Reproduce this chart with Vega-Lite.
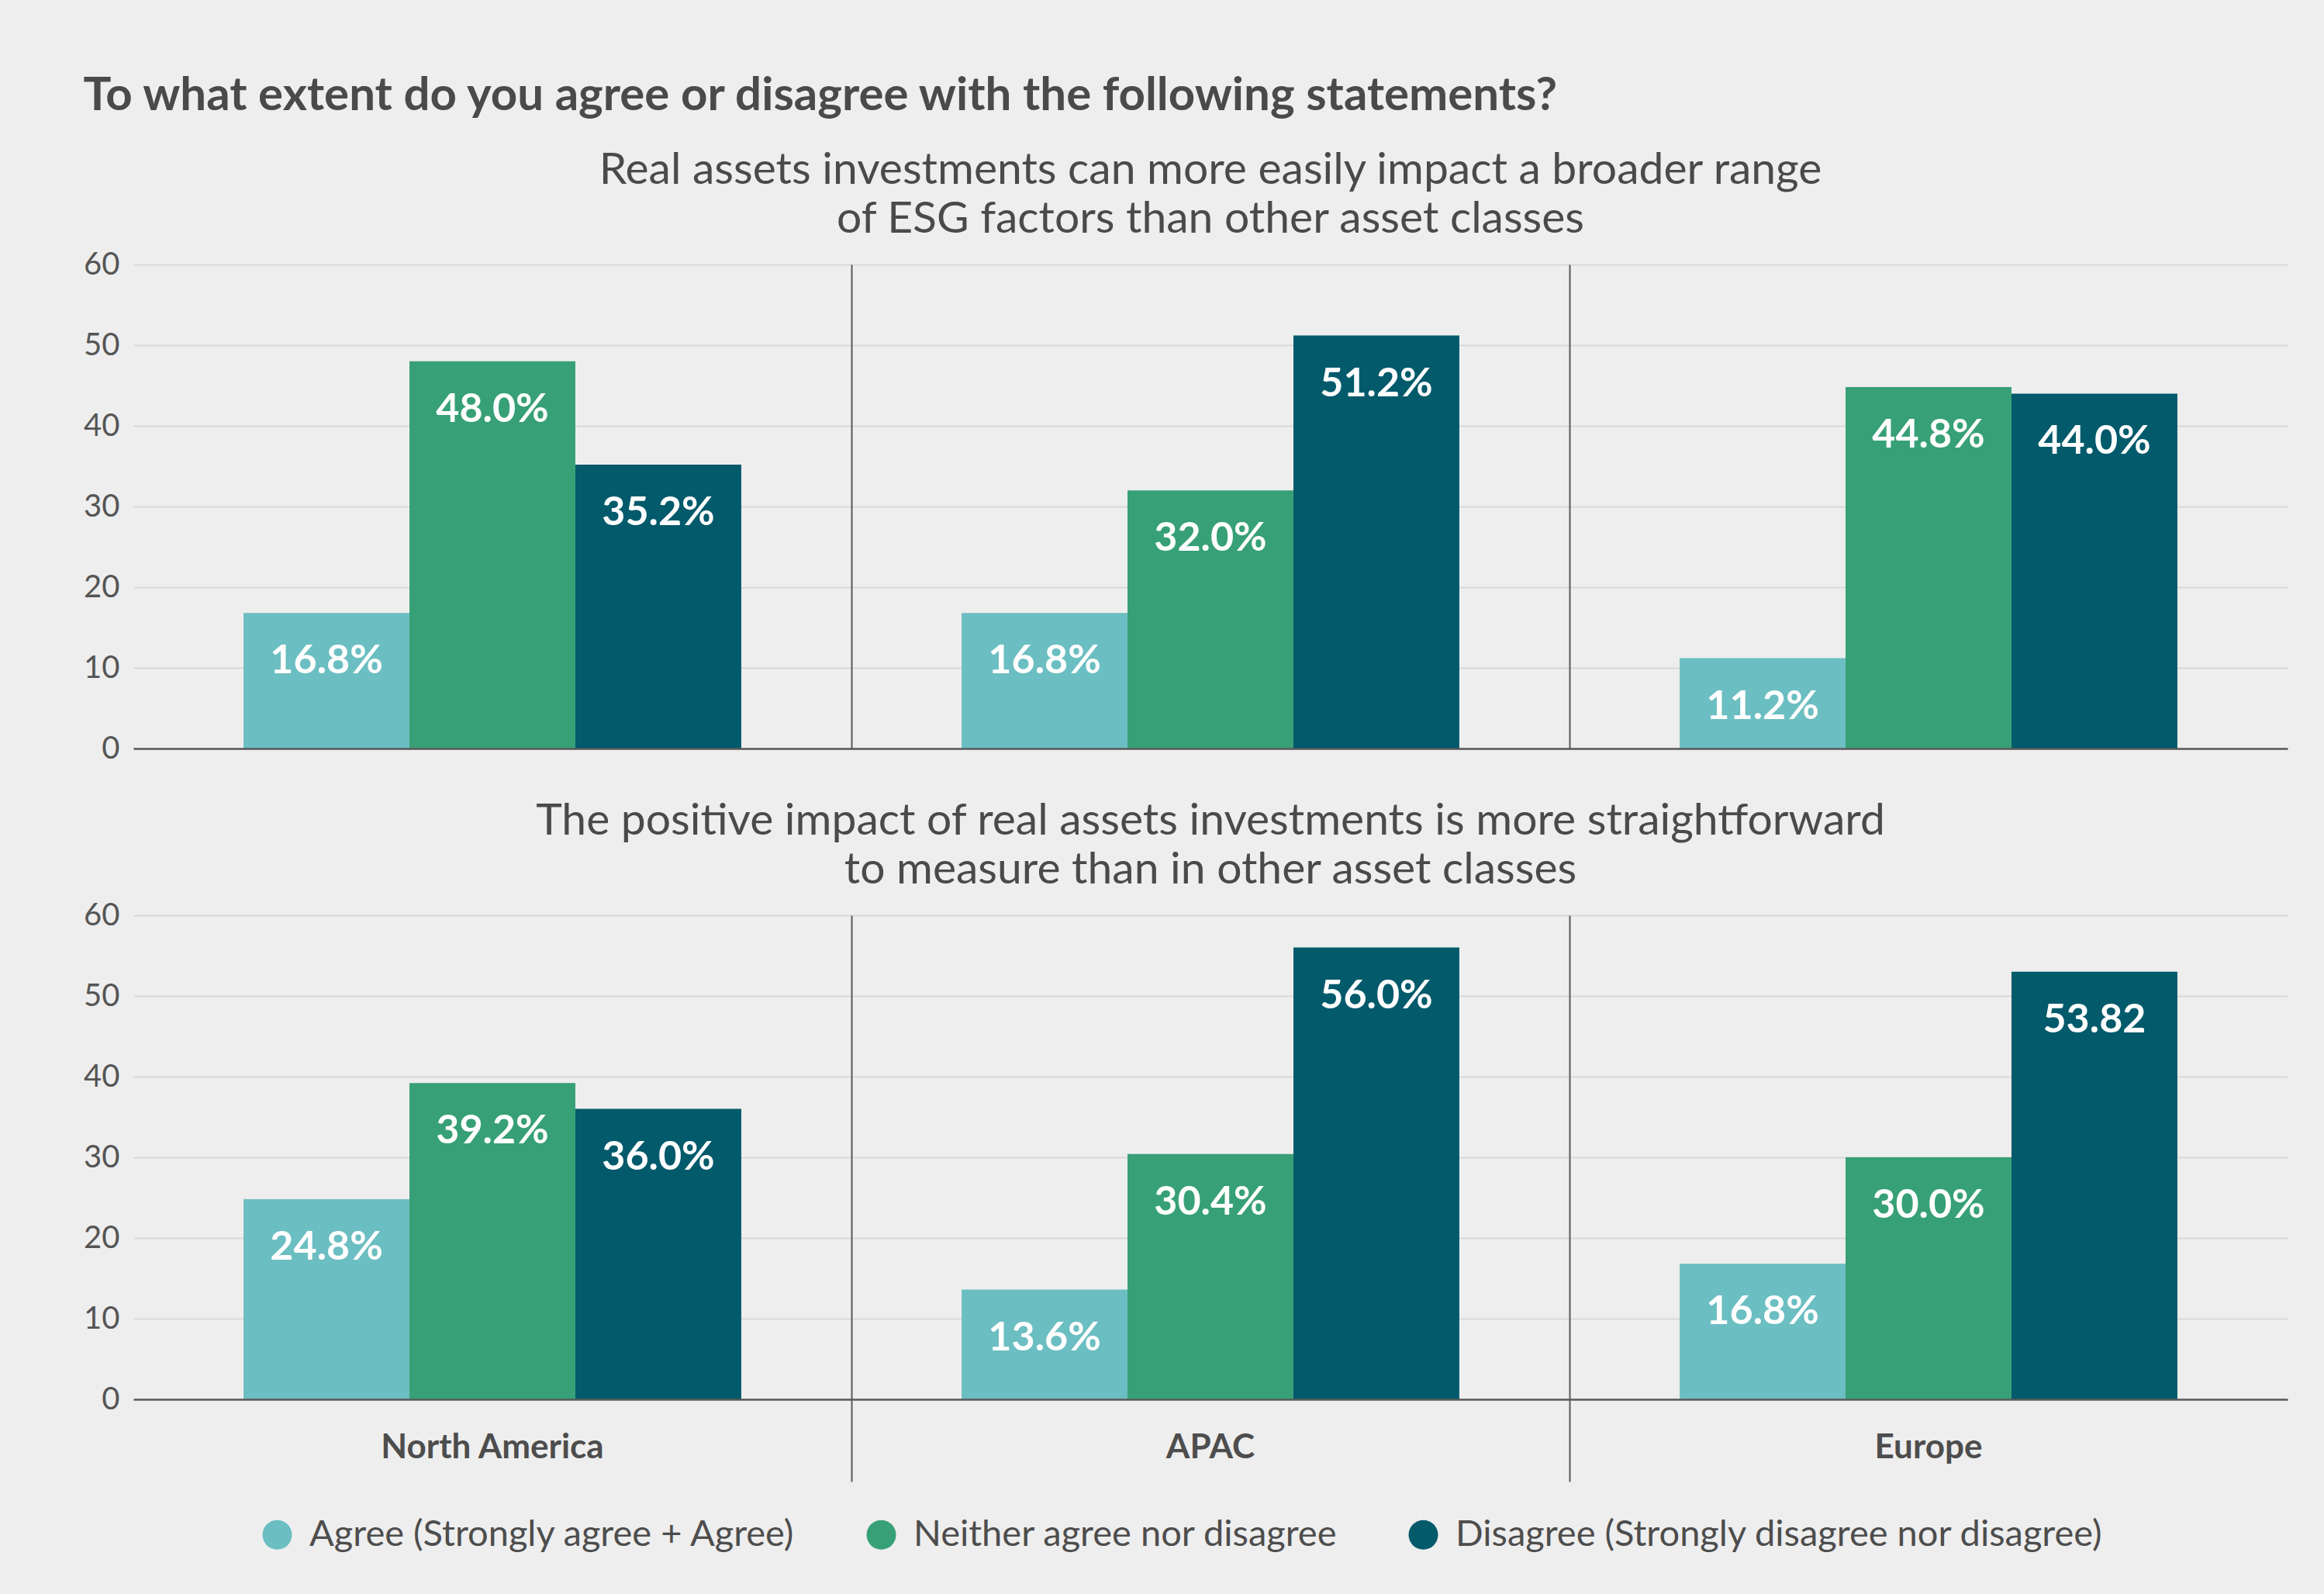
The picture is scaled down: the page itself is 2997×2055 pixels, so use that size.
{
  "$schema": "https://vega.github.io/schema/vega-lite/v6.json",
  "background": "#eeeeee",
  "padding": {"left": 107, "top": 94, "right": 49, "bottom": 60},
  "title": {
    "text": "To what extent do you agree or disagree with the following statements?",
    "anchor": "start",
    "font": "Lato",
    "fontSize": 60,
    "fontWeight": "bold",
    "color": "#4a4a4a",
    "offset": 36
  },
  "datasets": {
    "q1": [
      {"region": "North America", "response": "Agree (Strongly agree + Agree)", "value": 16.8, "label": "16.8%"},
      {"region": "North America", "response": "Neither agree nor disagree", "value": 48.0, "label": "48.0%"},
      {"region": "North America", "response": "Disagree (Strongly disagree nor disagree)", "value": 35.2, "label": "35.2%"},
      {"region": "APAC", "response": "Agree (Strongly agree + Agree)", "value": 16.8, "label": "16.8%"},
      {"region": "APAC", "response": "Neither agree nor disagree", "value": 32.0, "label": "32.0%"},
      {"region": "APAC", "response": "Disagree (Strongly disagree nor disagree)", "value": 51.2, "label": "51.2%"},
      {"region": "Europe", "response": "Agree (Strongly agree + Agree)", "value": 11.2, "label": "11.2%"},
      {"region": "Europe", "response": "Neither agree nor disagree", "value": 44.8, "label": "44.8%"},
      {"region": "Europe", "response": "Disagree (Strongly disagree nor disagree)", "value": 44.0, "label": "44.0%"}
    ],
    "q2": [
      {"region": "North America", "response": "Agree (Strongly agree + Agree)", "value": 24.8, "label": "24.8%"},
      {"region": "North America", "response": "Neither agree nor disagree", "value": 39.2, "label": "39.2%"},
      {"region": "North America", "response": "Disagree (Strongly disagree nor disagree)", "value": 36.0, "label": "36.0%"},
      {"region": "APAC", "response": "Agree (Strongly agree + Agree)", "value": 13.6, "label": "13.6%"},
      {"region": "APAC", "response": "Neither agree nor disagree", "value": 30.4, "label": "30.4%"},
      {"region": "APAC", "response": "Disagree (Strongly disagree nor disagree)", "value": 56.0, "label": "56.0%"},
      {"region": "Europe", "response": "Agree (Strongly agree + Agree)", "value": 16.8, "label": "16.8%"},
      {"region": "Europe", "response": "Neither agree nor disagree", "value": 30.0, "label": "30.0%"},
      {"region": "Europe", "response": "Disagree (Strongly disagree nor disagree)", "value": 53.0, "label": "53.82"}
    ]
  },
  "spacing": 45,
  "vconcat": [
    {
      "width": 2778,
      "height": 624,
      "data": {"name": "q1"},
      "title": {
        "text": ["Real assets investments can more easily impact a broader range", "of ESG factors than other asset classes"],
        "anchor": "middle",
        "font": "Lato",
        "fontSize": 57,
        "fontWeight": "normal",
        "lineHeight": 63,
        "color": "#4a4a4a",
        "offset": 9
      },
      "encoding": {
        "x": {
          "field": "region", "type": "nominal",
          "sort": ["North America", "APAC", "Europe"],
          "scale": {"paddingInner": 0, "paddingOuter": 0},
          "axis": {
            "title": null, "labels": false, "ticks": false,
            "domain": true, "domainColor": "#595959", "domainWidth": 2.5,
            "grid": true, "gridColor": "#595959", "gridWidth": 2,
            "gridOpacity": {"condition": {"test": "datum.value === 'North America'", "value": 0}, "value": 1},
            "bandPosition": 0, "zindex": 1
          }
        },
        "xOffset": {
          "field": "response",
          "sort": ["Agree (Strongly agree + Agree)", "Neither agree nor disagree", "Disagree (Strongly disagree nor disagree)"],
          "scale": {"paddingInner": 0, "paddingOuter": 0.664}
        },
        "y": {
          "field": "value", "type": "quantitative",
          "scale": {"domain": [0, 60]},
          "axis": {
            "title": null, "values": [0, 10, 20, 30, 40, 50, 60],
            "grid": true, "gridColor": "#d8d8d8", "gridWidth": 2,
            "domain": false, "ticks": false,
            "labelFont": "Lato", "labelFontSize": 40, "labelColor": "#555555", "labelPadding": 18
          }
        }
      },
      "layer": [
        {
          "mark": {"type": "bar"},
          "encoding": {
            "color": {
              "field": "response", "type": "nominal",
              "scale": {
                "domain": ["Agree (Strongly agree + Agree)", "Neither agree nor disagree", "Disagree (Strongly disagree nor disagree)"],
                "range": ["#6bbec1", "#37a077", "#025a6b"]
              },
              "legend": {
                "title": null, "orient": "none", "direction": "horizontal",
                "legendX": 162, "legendY": 1614,
                "symbolType": "circle", "symbolSize": 1444, "symbolStrokeWidth": 0,
                "labelFont": "Lato", "labelFontSize": 47, "labelColor": "#4d4d4d",
                "labelOffset": 18, "columnPadding": 86, "labelLimit": 2000
              }
            }
          }
        },
        {
          "mark": {"type": "text", "color": "white", "font": "Lato", "fontWeight": "bold", "fontSize": 52, "baseline": "middle", "dy": 62},
          "encoding": {"text": {"field": "label"}}
        }
      ]
    },
    {
      "width": 2778,
      "height": 624,
      "data": {"name": "q2"},
      "title": {
        "text": ["The positive impact of real assets investments is more straightforward", "to measure than in other asset classes"],
        "anchor": "middle",
        "font": "Lato",
        "fontSize": 57,
        "fontWeight": "normal",
        "lineHeight": 63,
        "color": "#4a4a4a",
        "offset": 9
      },
      "encoding": {
        "x": {
          "field": "region", "type": "nominal",
          "sort": ["North America", "APAC", "Europe"],
          "scale": {"paddingInner": 0, "paddingOuter": 0},
          "axis": {
            "title": null, "labelAngle": 0,
            "labelFont": "Lato", "labelFontSize": 44, "labelFontWeight": "bold", "labelColor": "#4d4d4d",
            "labelPadding": -66, "labelBaseline": "top", "labelLimit": 2000,
            "ticks": true, "tickSize": 106, "tickColor": "#595959", "tickWidth": 2,
            "tickOpacity": {"condition": {"test": "datum.value === 'North America'", "value": 0}, "value": 1},
            "domain": true, "domainColor": "#595959", "domainWidth": 2.5,
            "grid": true, "gridColor": "#595959", "gridWidth": 2,
            "gridOpacity": {"condition": {"test": "datum.value === 'North America'", "value": 0}, "value": 1},
            "bandPosition": 0, "zindex": 1
          }
        },
        "xOffset": {
          "field": "response",
          "sort": ["Agree (Strongly agree + Agree)", "Neither agree nor disagree", "Disagree (Strongly disagree nor disagree)"],
          "scale": {"paddingInner": 0, "paddingOuter": 0.664}
        },
        "y": {
          "field": "value", "type": "quantitative",
          "scale": {"domain": [0, 60]},
          "axis": {
            "title": null, "values": [0, 10, 20, 30, 40, 50, 60],
            "grid": true, "gridColor": "#d8d8d8", "gridWidth": 2,
            "domain": false, "ticks": false,
            "labelFont": "Lato", "labelFontSize": 40, "labelColor": "#555555", "labelPadding": 18
          }
        }
      },
      "layer": [
        {
          "mark": {"type": "bar"},
          "encoding": {
            "color": {
              "field": "response", "type": "nominal",
              "scale": {
                "domain": ["Agree (Strongly agree + Agree)", "Neither agree nor disagree", "Disagree (Strongly disagree nor disagree)"],
                "range": ["#6bbec1", "#37a077", "#025a6b"]
              }
            }
          }
        },
        {
          "mark": {"type": "text", "color": "white", "font": "Lato", "fontWeight": "bold", "fontSize": 52, "baseline": "middle", "dy": 62},
          "encoding": {"text": {"field": "label"}}
        }
      ]
    }
  ],
  "config": {
    "view": {"stroke": null},
    "font": "Lato"
  }
}
